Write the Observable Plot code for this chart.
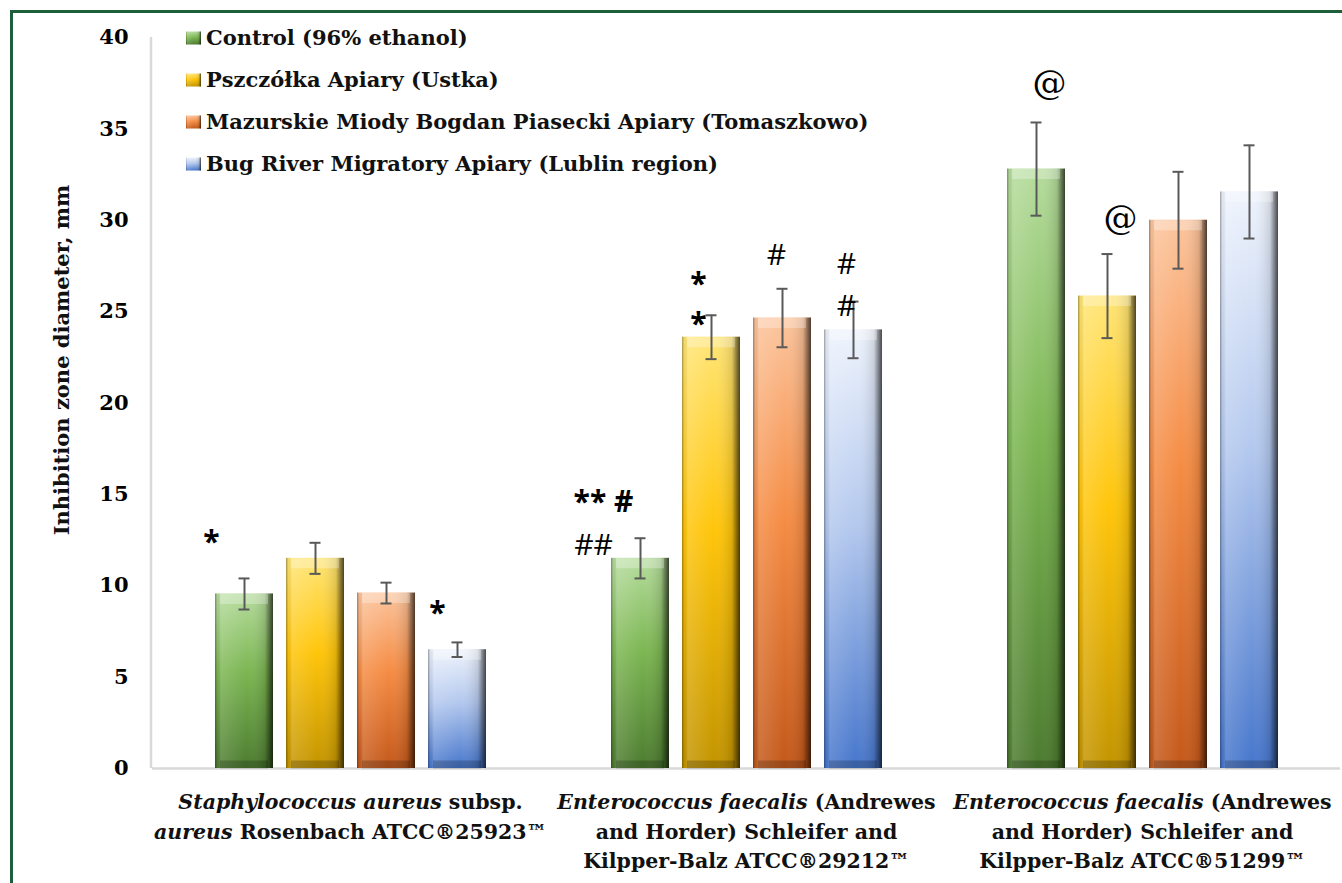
<!DOCTYPE html>
<html><head><meta charset="utf-8">
<script src="https://cdn.jsdelivr.net/npm/d3@7"></script>
<script src="https://cdn.jsdelivr.net/npm/@observablehq/plot@0.6"></script>
<style>
html,body{margin:0;padding:0;background:#fff;}
#wrap{position:relative;width:1342px;height:883px;overflow:hidden;}
#border{position:absolute;left:10px;top:10px;width:1400px;height:950px;border:3px solid #1d5f3b;box-sizing:border-box;pointer-events:none}
</style></head><body><div id="wrap"><div id="chart"></div><div id="border"></div></div>
<script>
// ---- data ----
const groups = ["S. aureus ATCC 25923", "E. faecalis ATCC 29212", "E. faecalis ATCC 51299"];
const series = ["Control (96% ethanol)", "Pszczółka Apiary (Ustka)", "Mazurskie Miody Bogdan Piasecki Apiary (Tomaszkowo)", "Bug River Migratory Apiary (Lublin region)"];
const controlMean = [9.55, 11.5, 32.8];
const pszczolkaMean = [11.5, 23.6, 25.85];
const mazurskieMean = [9.6, 24.65, 30.0];
const bugMean = [6.5, 24.0, 31.55];
const controlErr = [0.85, 1.1, 2.55];
const pszczolkaErr = [0.85, 1.2, 2.3];
const mazurskieErr = [0.57, 1.6, 2.65];
const bugErr = [0.4, 1.55, 2.55];
const yTicks = [0, 5, 10, 15, 20, 25, 30, 35, 40];
const yLabel = "Inhibition zone diameter, mm";
const groupLabelLines = [
  [[["Staphylococcus aureus", 1], [" subsp.", 0]], [["aureus", 1], [" Rosenbach ATCC®25923™", 0]]],
  [[["Enterococcus faecalis", 1], [" (Andrewes", 0]], [["and Horder) Schleifer and", 0]], [["Kilpper-Balz ATCC®29212™", 0]]],
  [[["Enterococcus faecalis", 1], [" (Andrewes", 0]], [["and Horder) Schleifer and", 0]], [["Kilpper-Balz ATCC®51299™", 0]]]
];
const annotText = ["*", "*", "** #", "##", "*", "*", "#", "#", "#", "@", "@"];
const annotGroup = [0, 0, 1, 1, 1, 1, 1, 1, 1, 2, 2];
const annotSeries = [0, 3, 0, 0, 1, 1, 2, 3, 3, 0, 1];
const annotY = [12.35, 8.5, 14.55, 12.2, 26.5, 24.3, 28.05, 27.6, 25.3, 37.5, 30.1];
const annotDx = [-33, -20, -37, -47, -13, -13, -6, -7, -7, 13, 13];

// ---- build tables ----
const means = [controlMean, pszczolkaMean, mazurskieMean, bugMean];
const errs = [controlErr, pszczolkaErr, mazurskieErr, bugErr];
const rows = [];
groups.forEach((g, gi) => series.forEach((s, si) => rows.push({
  group: g, series: s, value: means[si][gi],
  low: means[si][gi] - errs[si][gi], high: means[si][gi] + errs[si][gi],
  grad: `url(#grad${si})`
})));
const annots = annotText.map((t, i) => ({group: groups[annotGroup[i]], series: series[annotSeries[i]], y: annotY[i], label: t, dx: annotDx[i]}));
const groupLabels = groups.map((g, i) => ({group: g, plain: groupLabelLines[i].map(l => l.map(s => s[0]).join("")).join("\n")}));

const capInset = 23.5;
const chart = Plot.plot({
  width: 1342, height: 883,
  marginLeft: 151, marginRight: 2, marginTop: 37, marginBottom: 115,
  style: {fontFamily: "'DejaVu Serif', serif", background: "transparent", color: "#000", overflow: "visible"},
  fx: {domain: groups, padding: 0, axis: null},
  x: {domain: series, paddingInner: 0.19, paddingOuter: 0.866, axis: null},
  y: {domain: [0, 40]},
  color: {type: "identity"},
  marks: [
    Plot.axisY({ticks: yTicks, tickSize: 0, tickPadding: 24, fontSize: 21, fontWeight: "bold", label: null}),
    Plot.ruleY([0], {stroke: "#d9d9d9", strokeWidth: 2.5}),
    Plot.barY(rows, {fx: "group", x: "series", y: "value", fill: "grad"}),
    Plot.barY(rows, {fx: "group", x: "series", y: "value", fill: "url(#shade)"}),
    Plot.tickY(rows, {fx: "group", x: "series", y: "value", stroke: "#ffffff", strokeOpacity: 0.28, strokeWidth: 10, dy: 5, insetLeft: 5, insetRight: 5}),
    Plot.tickY(rows, {fx: "group", x: "series", y: 0, stroke: "#000000", strokeOpacity: 0.2, strokeWidth: 8, dy: -4, insetLeft: 5, insetRight: 5}),
    Plot.ruleX(rows, {fx: "group", x: "series", y1: "low", y2: "high", stroke: "#595959", strokeWidth: 2}),
    Plot.tickY(rows, {fx: "group", x: "series", y: "low", stroke: "#595959", strokeWidth: 2, insetLeft: capInset, insetRight: capInset}),
    Plot.tickY(rows, {fx: "group", x: "series", y: "high", stroke: "#595959", strokeWidth: 2, insetLeft: capInset, insetRight: capInset}),
    ...annots.map(a => Plot.text([a], {
      fx: "group", x: "series", y: "y", text: "label", dx: a.dx,
      fontSize: a.label === "@" ? 34 : 30,
      fontWeight: a.label.includes("*") ? "bold" : "normal",
      fontFamily: a.label === "@" ? "'DejaVu Serif', serif" : "'Open Sans', sans-serif",
      fill: "#000", lineAnchor: "middle"
    })),
    Plot.text(groupLabels, {fx: "group", text: "plain", frameAnchor: "bottom", lineAnchor: "top", dy: 20, fontSize: 20.5, fontWeight: "bold", lineHeight: 1.43, fill: "#111", className: "grp-label"})
  ]
});
document.getElementById("chart").appendChild(chart);

// ---- post-render: gradients, rich labels, axis line, y label, legend ----
const svgEl = chart.tagName.toLowerCase() === "svg" ? chart : chart.querySelector("svg");
const svg = d3.select(svgEl);
const defs = svg.insert("defs", ":first-child");
const gradStops = [
  [["0%", "#b5dc9c"], ["45%", "#7cb652"], ["100%", "#4c7b2f"]],
  [["0%", "#ffe575"], ["45%", "#ffc50a"], ["100%", "#c39400"]],
  [["0%", "#fcc49c"], ["45%", "#f58c44"], ["100%", "#c4581a"]],
  [["0%", "#eef3fc"], ["45%", "#b3c8ee"], ["100%", "#4676cc"]]
];
gradStops.forEach((stops, i) => {
  const lg = defs.append("linearGradient").attr("id", `grad${i}`).attr("x1", 0).attr("y1", 0).attr("x2", 0).attr("y2", 1);
  stops.forEach(([o, c]) => lg.append("stop").attr("offset", o).attr("stop-color", c));
});
const shade = defs.append("linearGradient").attr("id", "shade").attr("x1", 0).attr("y1", 0).attr("x2", 1).attr("y2", 0);
[["0%", "#000", 0.35], ["4%", "#000", 0.05], ["10%", "#fff", 0.15], ["55%", "#fff", 0], ["86%", "#000", 0.12], ["100%", "#000", 0.7]]
  .forEach(([o, c, op]) => shade.append("stop").attr("offset", o).attr("stop-color", c).attr("stop-opacity", op));

// rich (italic) x labels
const segByLine = new Map();
groupLabelLines.forEach(lines => lines.forEach(l => segByLine.set(l.map(s => s[0]).join(""), l)));
svgEl.querySelectorAll(".grp-label text").forEach(t => {
  t.style.whiteSpace = "pre";
  const spans = t.querySelectorAll("tspan");
  const targets = spans.length ? Array.from(spans) : [t];
  targets.forEach(sp => {
    const segs = segByLine.get(sp.textContent);
    if (!segs) return;
    sp.textContent = "";
    segs.forEach(([s, it]) => {
      const e = document.createElementNS("http://www.w3.org/2000/svg", "tspan");
      if (it) e.setAttribute("font-style", "italic");
      e.textContent = s;
      sp.appendChild(e);
    });
  });
});

// y axis line from scales
const yS = chart.scale("y"), fxS = chart.scale("fx");
svg.append("line").attr("x1", fxS.range[0]).attr("x2", fxS.range[0]).attr("y1", yS.range[0]).attr("y2", yS.range[1])
  .attr("stroke", "#d9d9d9").attr("stroke-width", 2.5);

// y label
svg.append("text").attr("transform", "translate(62,360) rotate(-90)").attr("text-anchor", "middle").attr("dy", "0.35em")
  .attr("font-size", 21).attr("font-weight", "bold").attr("fill", "#111").text(yLabel);

// legend
const leg = svg.append("g").attr("text-anchor", "start");
series.forEach((s, i) => {
  const cy = 38 + i * 42;
  leg.append("rect").attr("x", 186).attr("y", cy - 6.5).attr("width", 15).attr("height", 13).attr("fill", `url(#grad${i})`);
  leg.append("rect").attr("x", 186).attr("y", cy - 6.5).attr("width", 15).attr("height", 13).attr("fill", "url(#shade)");
  leg.append("text").attr("x", 206).attr("y", cy).attr("dy", "0.35em").attr("text-anchor", "start")
    .attr("font-size", 21).attr("font-weight", "bold").attr("fill", "#111").text(s);
});
</script></body></html>
